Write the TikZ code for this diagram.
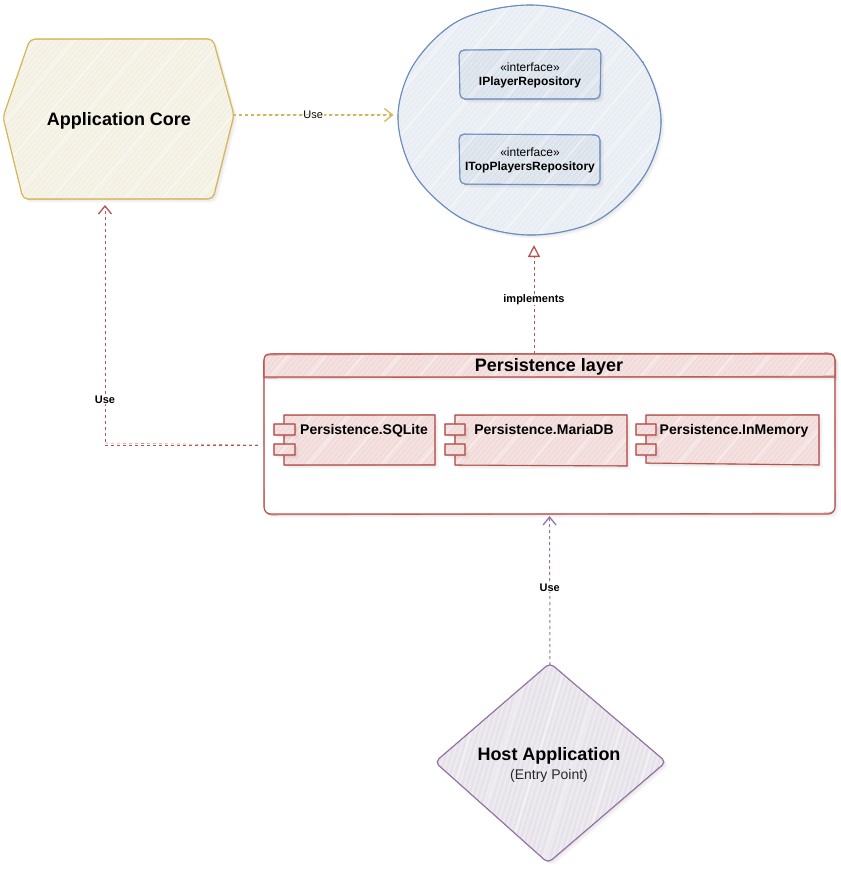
\documentclass[tikz,border=0pt]{standalone}
\usepackage{fontspec}
\setmainfont{Liberation Sans}
\usetikzlibrary{arrows.meta}
\definecolor{yelS}{HTML}{D6B656}
\definecolor{bluS}{HTML}{6C8EBF}
\definecolor{redS}{HTML}{B85450}
\definecolor{purS}{HTML}{9673A6}
\definecolor{yelB}{HTML}{F2EEE0}
\definecolor{yelH}{HTML}{F6F3E8}
\definecolor{bluB}{HTML}{E6ECF3}
\definecolor{bluH}{HTML}{EDF1F6}
\definecolor{ifcB}{HTML}{D8E0EA}
\definecolor{ifcH}{HTML}{E2E8EF}
\definecolor{redB}{HTML}{EDE8E8}
\definecolor{redH}{HTML}{F6D9D7}
\definecolor{purB}{HTML}{E6E2E9}
\definecolor{purH}{HTML}{EEEBF0}
\newcommand\fs[1]{\fontsize{#1}{#1}\selectfont}
% path, stroke, base, hatch, corner, hatch dx, centre
\newcommand\skshape[7]{%
  \foreach \sh in {1.2,2.4,3.6}{\fill[black,opacity=.03,rounded corners=#5pt,shift={(\sh,\sh)}] #1;}
  \fill[#3,rounded corners=#5pt] #1;
  \begin{scope}
    \clip[rounded corners=#5pt] #1;
    \foreach \i in {-800,-795,...,1000}{\draw[#4,line width=2.2pt] (\i,900) -- ++(#6,-900);}
    \foreach \i in {-800,-763,...,1000}{\draw[white,opacity=.3,line width=3pt] (\i,900) -- ++(#6,-900);}
  \end{scope}
  \draw[#2,line width=1.1pt,rounded corners=#5pt] #1;
  \draw[#2,line width=.6pt,opacity=.8,rounded corners=#5pt,rotate around={.2:#7}] #1;
}
\tikzset{
  box/.style={inner sep=0pt,outer sep=0pt,align=center,text=black},
  title/.style={box,font=\fs{18}\bfseries},
  comp/.style={box,font=\fs{14}\bfseries,anchor=base},
  iface/.style={box,font=\fs{12}},
  conlabel/.style={box,fill=white,inner sep=.6pt,font=\fs{11}\bfseries},
  conn/.style={line width=1pt,dash pattern=on 3pt off 3pt},
  openhead/.style={-{Straight Barb[length=8pt,width=13pt,line width=1.3pt]}},
  trianglehead/.style={-{Triangle[open,length=12pt,width=12pt,line width=1.3pt]}}
}
\begin{document}
\begin{tikzpicture}[x=1pt,y=-1pt]
\useasboundingbox (0,0) rectangle (841,871);
\fill[white] (0,0) rectangle (841,871);

% Application core
\skshape{(30,39) -- (213,39) -- (234,115) -- (213,199) -- (23,199) -- (3,117) -- cycle}{yelS}{yelB}{yelH}{5}{760}{(119,119)}
\node[box,minimum width=228pt,minimum height=160pt] (core) at (119,119) {};
\node[title] (coretitle) at (119,120.5) {Application Core};

% Repository blob
\skshape{plot[smooth cycle,tension=.55] coordinates {(661,121) (643,63) (596,20) (530,5) (460,20) (414,64) (398,118) (415,175) (463,219) (529,235) (596,221) (644,176)}}{bluS}{bluB}{bluH}{1}{760}{(529,120)}
\node[box,minimum width=264pt,minimum height=230pt] (repo) at (529,120) {};

% Interfaces
\skshape{(459,50) -- (601,49) -- (600,99) -- (460,99) -- cycle}{bluS}{ifcB}{ifcH}{5}{760}{(529,74)}
\node[iface,minimum width=142pt,minimum height=50pt] (iplayer) at (530,75) {«interface»\\[2pt]\textbf{IPlayerRepository}};
\skshape{(459,134) -- (600,135) -- (600,185) -- (460,184) -- cycle}{bluS}{ifcB}{ifcH}{5}{760}{(529,159)}
\node[iface,minimum width=142pt,minimum height=50pt] (itop) at (530,160) {«interface»\\[2pt]\textbf{ITopPlayersRepository}};

% Persistence layer
\skshape{(264,354) -- (835,354) -- (835,514) -- (264,514) -- cycle}{redS}{white}{white}{7}{760}{(549,434)}
\skshape{(264,377) -- (264,361) .. controls (264,355) and (266,354) .. (271,354) -- (828,354) .. controls (833,354) and (835,356) .. (835,361) -- (835,377) -- cycle}{redS}{redB}{redH}{.01}{760}{(549,366)}
\node[box,minimum width=571pt,minimum height=160pt] (persist) at (549.5,434) {};
\node[title] (persisttitle) at (549,367) {Persistence layer};

% Components
\skshape{(284,415) -- (435,415) -- (435,465) -- (284,465) -- cycle}{redS}{redB}{redH}{.01}{760}{(360,440)}
\skshape{(274,424) -- (295,424) -- (295,435) -- (274,435) -- cycle}{redS}{redB}{redH}{.01}{760}{(284,430)}
\skshape{(274,444) -- (295,444) -- (295,455) -- (274,455) -- cycle}{redS}{redB}{redH}{.01}{760}{(284,450)}
\node[comp] (sqlite) at (364,434) {Persistence.SQLite};

\skshape{(455,415) -- (627,415) -- (627,466) -- (455,465) -- cycle}{redS}{redB}{redH}{.01}{760}{(540,440)}
\skshape{(445,424) -- (465,424) -- (465,435) -- (445,435) -- cycle}{redS}{redB}{redH}{.01}{760}{(455,430)}
\skshape{(445,444) -- (465,444) -- (465,455) -- (445,455) -- cycle}{redS}{redB}{redH}{.01}{760}{(455,450)}
\node[comp] (maria) at (544,434) {Persistence.MariaDB};

\skshape{(646,415) -- (819,415) -- (819,465) -- (646,463) -- cycle}{redS}{redB}{redH}{.01}{760}{(732,440)}
\skshape{(636,424) -- (656,424) -- (656,435) -- (636,435) -- cycle}{redS}{redB}{redH}{.01}{760}{(646,430)}
\skshape{(636,444) -- (656,444) -- (656,455) -- (636,455) -- cycle}{redS}{redB}{redH}{.01}{760}{(646,450)}
\node[comp] (inmem) at (734,434) {Persistence.InMemory};

% Host application
\skshape{(550,663) -- (666,762) -- (548,863) -- (435,762) -- cycle}{purS}{purB}{purH}{5}{270}{(550,763)}
\node[box,minimum width=225pt,minimum height=196pt] (host) at (550,763) {};
\node[title] (hosttitle) at (549,756) {Host Application};
\node[box,font=\fs{14},text=black!85] (hostsub) at (549,776) {(Entry Point)};

% Connectors
\draw[conn,yelS,line width=1.2pt,openhead] ([yshift=4pt]core.east) -- ([xshift=-3.5pt,yshift=5pt]repo.west) node[pos=.5,conlabel,font=\fs{11},name=useA] {Use};
\draw[conn,yelS,line width=.7pt,opacity=.7] ([xshift=25pt,yshift=4.8pt]core.east) -- ([xshift=-5pt,yshift=5.8pt]repo.west);
\draw[conn,redS,trianglehead] ([xshift=-15.5pt]persist.north) -- ([xshift=5pt,yshift=-10pt]repo.south) node[pos=.5,conlabel,name=impl] {implements};
\coordinate (persistLeft) at ([xshift=-6pt,yshift=-11pt]persist.west);
\coordinate (bendA) at (105,445);
\draw[conn,redS,openhead] (persistLeft) -- (bendA) -- ([xshift=-14pt,yshift=-6pt]core.south) node[pos=.19,conlabel,name=useB] {Use};
\draw[conn,redS,line width=.6pt,opacity=.7] (persistLeft) -- (106,443);
\draw[conn,purS,openhead] (host.north) -- ([yshift=-2pt]persist.south) node[pos=.517,conlabel,name=useC] {Use};
\end{tikzpicture}
\end{document}
